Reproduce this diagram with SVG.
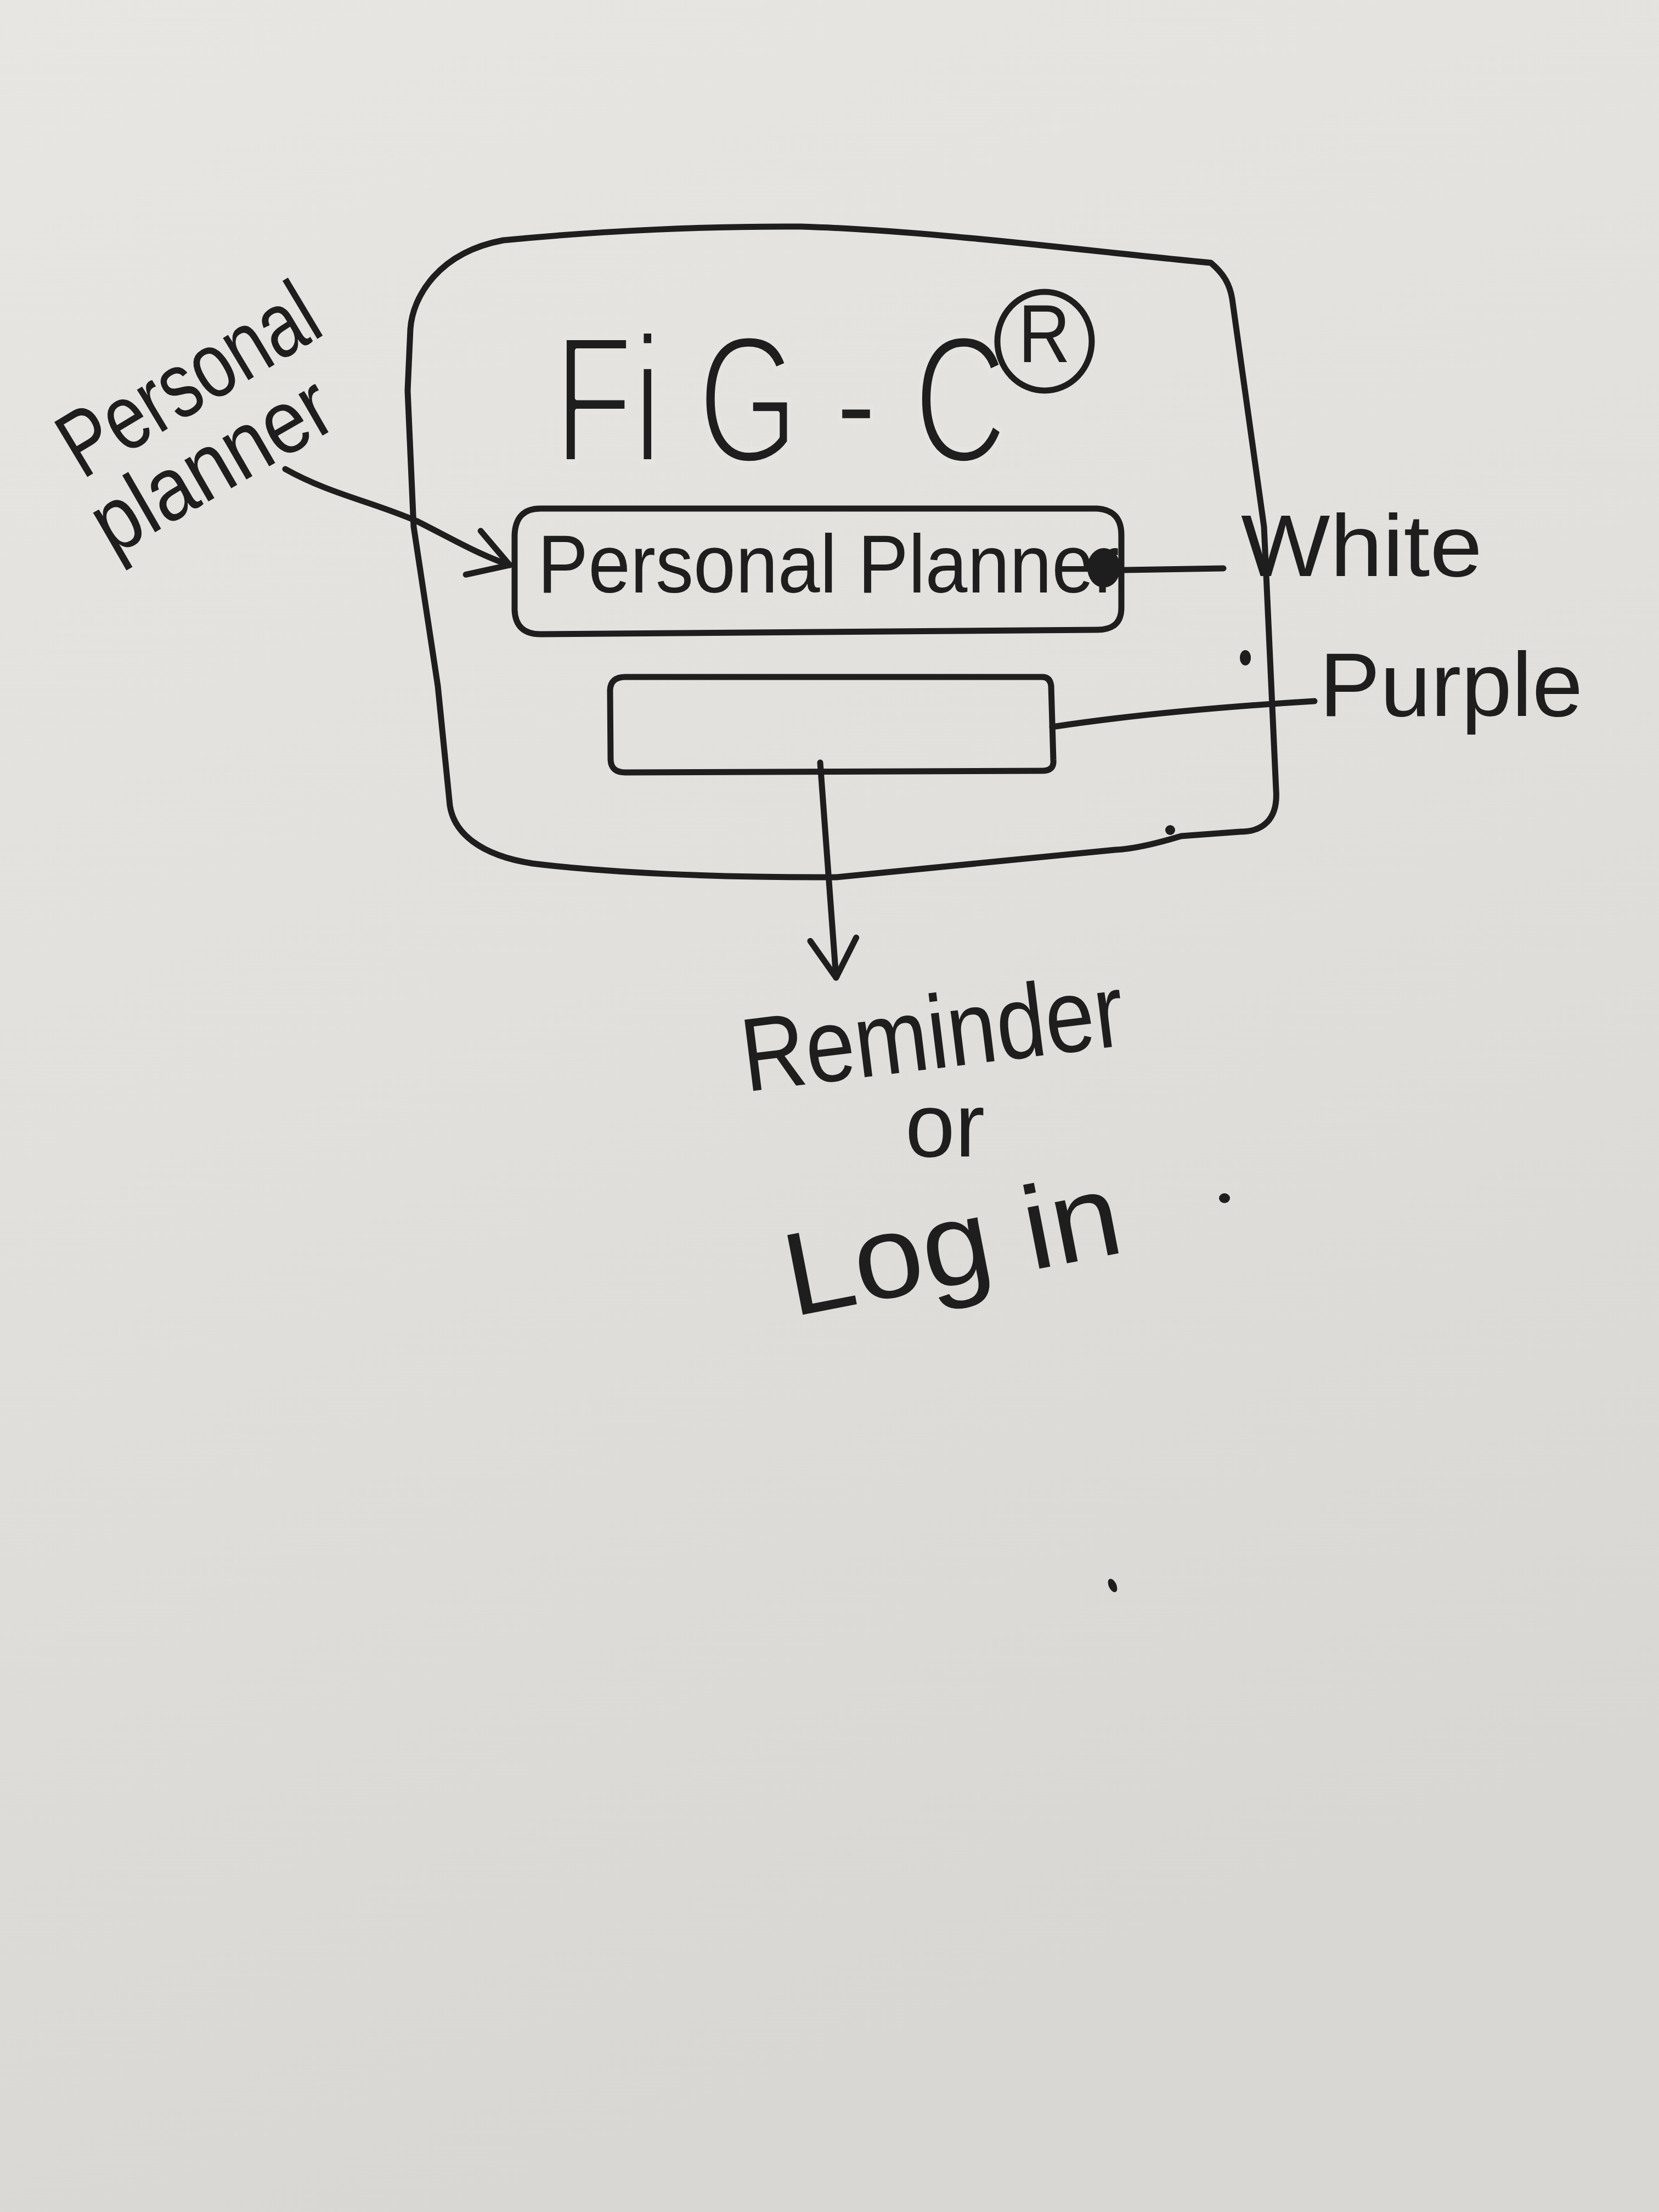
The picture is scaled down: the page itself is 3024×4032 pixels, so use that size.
<svg xmlns="http://www.w3.org/2000/svg" width="3024" height="4032" viewBox="0 0 3024 4032">
<style>
.ink{fill:none;stroke:#1e1e1e;stroke-width:11;stroke-linecap:round;stroke-linejoin:round}
.txt{fill:#1e1e1e;font-family:"Liberation Sans","DejaVu Sans",sans-serif}
.thin{stroke:#e6e4e0;stroke-width:10;stroke-linejoin:round}
.dot{fill:#1e1e1e}
</style>
<defs>
<linearGradient id="paper" x1="0" y1="0" x2="0.3" y2="1">
<stop offset="0" stop-color="#e8e6e2"/>
<stop offset="0.5" stop-color="#e2e0dc"/>
<stop offset="1" stop-color="#d9d7d3"/>
</linearGradient>
<marker id="arr" markerUnits="userSpaceOnUse" markerWidth="90" markerHeight="110" refX="80" refY="50" orient="auto" viewBox="0 0 90 100">
<path d="M10,8 L80,50 L10,92" fill="none" stroke="#1e1e1e" stroke-width="11" stroke-linecap="round" stroke-linejoin="round"/>
</marker>
</defs>
<rect width="3024" height="4032" fill="url(#paper)"/>

<g id="frame">
<path class="ink" d="M917,438 C1100,420 1300,412 1459,413 C1700,420 2000,460 2207,479 C2232,500 2242,520 2246,545 L2304,960 L2326,1440 C2330,1495 2300,1516 2261,1516 L2153,1524 C2100,1540 2060,1548 2033,1549 L1524,1599 C1300,1600 1100,1590 971,1574 C880,1560 822,1520 819,1458 L798,1250 L754,960 L743,712 L748,600 C752,540 800,460 917,438 Z"/>
<text class="txt thin" transform="translate(1010,842) scale(0.715,1)" font-size="330">Fi G - C</text>
<ellipse class="ink" cx="1904" cy="622" rx="86" ry="90"/>
<text class="txt" x="1856" y="660" font-size="150" textLength="95" lengthAdjust="spacingAndGlyphs">R</text>
</g>

<g id="node-personal-planner">
<path class="ink" d="M985,927 L2000,927 Q2044,930 2044,975 L2044,1108 Q2044,1148 2000,1148 L985,1156 Q940,1156 938,1112 L938,975 Q940,927 985,927 Z"/>
<text class="txt" x="980" y="1080" font-size="150" textLength="1060" lengthAdjust="spacingAndGlyphs">Personal Planner</text>
<ellipse cx="2012" cy="1035" rx="30" ry="36" fill="#1e1e1e"/>
</g>

<g id="node-empty-box">
<path class="ink" d="M1140,1234 L1900,1234 Q1914,1234 1916,1250 L1920,1385 Q1922,1405 1900,1405 L1140,1408 Q1114,1408 1113,1385 L1112,1258 Q1113,1234 1140,1234 Z"/>
</g>

<g id="label-personal-planner">
<text class="txt" font-size="170" transform="translate(150,875) rotate(-31)" textLength="520" lengthAdjust="spacingAndGlyphs">Personal</text>
<text class="txt" font-size="165" transform="translate(205,1015) rotate(-30)" textLength="480" lengthAdjust="spacingAndGlyphs">planner</text>
</g>

<g id="label-white">
<text class="txt" x="2262" y="1050" font-size="160" textLength="440" lengthAdjust="spacingAndGlyphs">White</text>
</g>

<g id="label-purple">
<text class="txt" x="2405" y="1305" font-size="165" textLength="480" lengthAdjust="spacingAndGlyphs">Purple</text>
</g>

<g id="label-reminder">
<text class="txt" font-size="190" transform="translate(1360,1990) rotate(-7)" textLength="700" lengthAdjust="spacingAndGlyphs">Reminder</text>
<text class="txt" x="1650" y="2108" font-size="165" textLength="145" lengthAdjust="spacingAndGlyphs">or</text>
<text class="txt" font-size="215" transform="translate(1445,2400) rotate(-11)" textLength="620" lengthAdjust="spacingAndGlyphs">Log in</text>
</g>

<g id="marks">
<ellipse class="dot" cx="2270" cy="1199" rx="10" ry="14"/>
<ellipse class="dot" cx="2133" cy="1513" rx="9" ry="9"/>
<ellipse class="dot" cx="2232" cy="2184" rx="10" ry="9"/>
<ellipse class="dot" cx="2028" cy="2890" rx="7" ry="13" transform="rotate(-25 2028 2890)"/>
</g>

<g id="connectors">
<path class="ink" d="M520,855 C600,900 680,915 760,950 C820,980 870,1010 929,1030" marker-end="url(#arr)"/>
<path class="ink" d="M2050,1039 L2230,1036"/>
<path class="ink" d="M1918,1325 C2050,1305 2200,1290 2396,1278"/>
<path class="ink" d="M1495,1390 L1524,1782" marker-end="url(#arr)"/>
</g>
</svg>
